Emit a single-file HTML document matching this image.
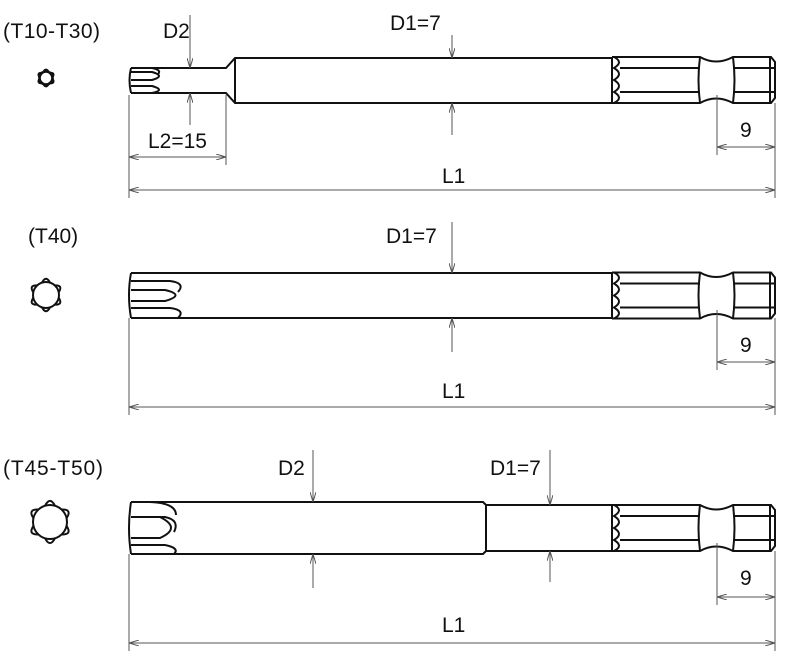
<!DOCTYPE html>
<html><head><meta charset="utf-8"><style>
html,body{margin:0;padding:0;background:#fff;}
svg{display:block;}
text{font-family:"Liberation Sans",sans-serif;font-size:21px;fill:#111;}
</style></head><body>
<svg width="800" height="656" viewBox="0 0 800 656" xmlns="http://www.w3.org/2000/svg">
<defs>
<g id="hex" fill="none" stroke="#111" stroke-width="2">
  <path d="M612,-23 H700 Q716,-14 733,-23 H771 L775,-18 V18 L771,23 H733 Q716,14 700,23 H612"/>
  <line x1="612" y1="-23" x2="612" y2="23"/>
  <line x1="620" y1="-12" x2="700" y2="-12"/>
  <line x1="620" y1="12" x2="700" y2="12"/>
  <line x1="733" y1="-12" x2="775" y2="-12"/>
  <line x1="733" y1="12" x2="775" y2="12"/>
  <path d="M700,-23 Q697,0 700,23 M733,-23 Q736,0 733,23 M770,-22 V22" />
  <path d="M614,-23 Q624,-18 614,-12 Q624,-6 614,0 Q624,6 614,12 Q624,18 614,23"/>
</g>
<marker id="a" markerWidth="10" markerHeight="6" refX="10" refY="3" orient="auto-start-reverse" markerUnits="userSpaceOnUse">
  <path d="M0,0 L10,3 L0,6" fill="none" stroke="#555" stroke-width="1"/>
</marker>
</defs>

<!-- Bit 1 -->
<text x="3" y="38" textLength="97">(T10-T30)</text>
<g transform="translate(46,78)" fill="none" stroke="#111" stroke-width="2.6">
  <circle r="6.5"/>
  <g id="l1"><path d="M-2.2,-6.2 Q0,-10 2.2,-6.2 M-2.2,6.2 Q0,10 2.2,6.2"/></g>
  <use href="#l1" transform="rotate(60)"/><use href="#l1" transform="rotate(-60)"/>
</g>
<g fill="none" stroke="#111" stroke-width="2">
  <path d="M131,68 H226 L235,58 H612 M131,93 H226 L235,103 H612"/>
  <path d="M131,68 Q128,80 131,93"/>
  <line x1="235" y1="58" x2="235" y2="103"/>
  <path d="M131,72 H152 Q166,76 152,80 H131 M131,86 H152 Q166,90 152,93 M152,68 Q162,70 158,74"/>
</g>
<use href="#hex" transform="translate(0,80)"/>
<g stroke="#555" stroke-width="1" fill="none">
  <line x1="190" y1="15" x2="190" y2="68" marker-end="url(#a)"/>
  <line x1="190" y1="120" x2="190" y2="93" marker-end="url(#a)"/>
  <line x1="190" y1="93" x2="190" y2="125"/>
  <line x1="452" y1="35" x2="452" y2="58" marker-end="url(#a)"/>
  <line x1="452" y1="135" x2="452" y2="103" marker-end="url(#a)"/>
  <line x1="129" y1="95" x2="129" y2="198"/>
  <line x1="226" y1="95" x2="226" y2="165"/>
  <line x1="129" y1="157" x2="226" y2="157" marker-start="url(#a)" marker-end="url(#a)"/>
  <line x1="717" y1="95" x2="717" y2="155"/>
  <line x1="775" y1="103" x2="775" y2="198"/>
  <line x1="717" y1="147" x2="775" y2="147" marker-start="url(#a)" marker-end="url(#a)"/>
  <line x1="129" y1="190" x2="775" y2="190" marker-start="url(#a)" marker-end="url(#a)"/>
</g>
<text x="163" y="38">D2</text>
<text x="390" y="30">D1=7</text>
<text x="148" y="148">L2=15</text>
<text x="740" y="137">9</text>
<text x="442" y="183">L1</text>

<!-- Bit 2 -->
<text x="28" y="243">(T40)</text>
<g transform="translate(46,295)" fill="none" stroke="#111" stroke-width="2">
  <circle r="13"/>
  <g id="l2"><path d="M-4,-12.4 Q0,-20 4,-12.4 M-4,12.4 Q0,20 4,12.4"/></g>
  <use href="#l2" transform="rotate(60)"/><use href="#l2" transform="rotate(-60)"/>
</g>
<g fill="none" stroke="#111" stroke-width="2">
  <path d="M131,273 H612 M131,318 H612"/>
  <path d="M131,273 Q127,295 131,318"/>
  <path d="M131,281 H170 Q186,283 178,292 M131,290 H165 Q186,295 165,301 H131 M131,308 H170 Q186,310 178,318"/>
</g>
<use href="#hex" transform="translate(0,295.5)"/>
<g stroke="#555" stroke-width="1" fill="none">
  <line x1="452" y1="222" x2="452" y2="273" marker-end="url(#a)"/>
  <line x1="452" y1="352" x2="452" y2="318" marker-end="url(#a)"/>
  <line x1="129" y1="318" x2="129" y2="415"/>
  <line x1="717" y1="310" x2="717" y2="370"/>
  <line x1="775" y1="318" x2="775" y2="415"/>
  <line x1="717" y1="362" x2="775" y2="362" marker-start="url(#a)" marker-end="url(#a)"/>
  <line x1="129" y1="407" x2="775" y2="407" marker-start="url(#a)" marker-end="url(#a)"/>
</g>
<text x="386" y="243">D1=7</text>
<text x="740" y="352">9</text>
<text x="442" y="398">L1</text>

<!-- Bit 3 -->
<text x="3" y="475" textLength="100">(T45-T50)</text>
<g transform="translate(50,522)" fill="none" stroke="#111" stroke-width="2">
  <circle r="17"/>
  <g id="l3"><path d="M-5,-16.2 Q0,-26 5,-16.2 M-5,16.2 Q0,26 5,16.2"/></g>
  <use href="#l3" transform="rotate(60)"/><use href="#l3" transform="rotate(-60)"/>
</g>
<g fill="none" stroke="#111" stroke-width="2">
  <path d="M131,502 H483 L486,505 H612 M131,554 H483 L486,551 H612"/>
  <path d="M131,502 Q127,528 131,554"/>
  <line x1="486" y1="505" x2="486" y2="551"/>
  <path d="M131,517 H165 Q180,520 174,532 M131,517 H160 Q182,528 160,538 H131 M131,545 H165 Q180,548 174,554 M150,502 Q176,503 176,515"/>
</g>
<use href="#hex" transform="translate(0,528)"/>
<g stroke="#555" stroke-width="1" fill="none">
  <line x1="313" y1="450" x2="313" y2="502" marker-end="url(#a)"/>
  <line x1="313" y1="588" x2="313" y2="554" marker-end="url(#a)"/>
  <line x1="550" y1="450" x2="550" y2="505" marker-end="url(#a)"/>
  <line x1="550" y1="582" x2="550" y2="551" marker-end="url(#a)"/>
  <line x1="129" y1="554" x2="129" y2="651"/>
  <line x1="717" y1="543" x2="717" y2="605"/>
  <line x1="775" y1="551" x2="775" y2="651"/>
  <line x1="717" y1="597" x2="775" y2="597" marker-start="url(#a)" marker-end="url(#a)"/>
  <line x1="129" y1="643" x2="775" y2="643" marker-start="url(#a)" marker-end="url(#a)"/>
</g>
<text x="278" y="475">D2</text>
<text x="490" y="475">D1=7</text>
<text x="740" y="585">9</text>
<text x="442" y="632">L1</text>
</svg>
</body></html>
